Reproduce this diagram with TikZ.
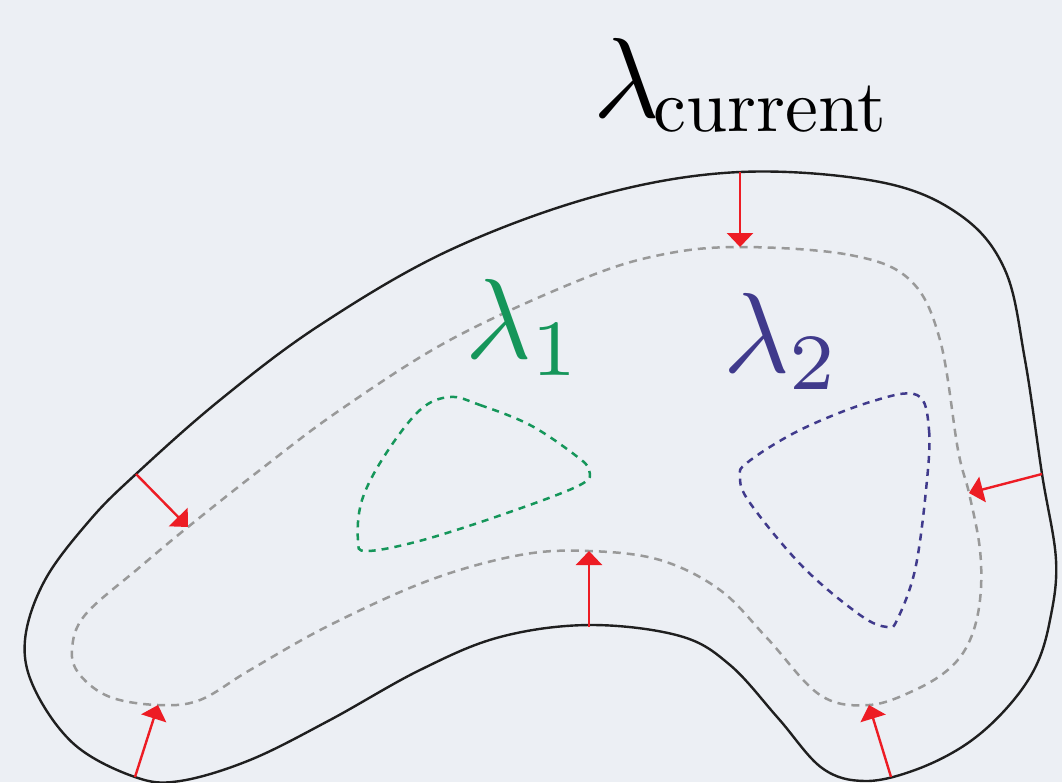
\documentclass[tikz,border=0pt]{standalone}
\usetikzlibrary{arrows.meta}
\definecolor{bgcol}{HTML}{ECEFF4}
\definecolor{pushred}{HTML}{ED1C24}
\definecolor{lamgreen}{HTML}{15965A}
\definecolor{lamblue}{HTML}{403A8C}
\newcommand\biglam[1]{\scalebox{11.4}{#1}}
\begin{document}
\begin{tikzpicture}[x=1pt,y=-1pt,
    outer/.style={line width=2.4pt,draw=black!88},
    level/.style={line width=2.5pt,dash pattern=on 8pt off 6pt},
    push/.style={line width=2.4pt,draw=pushred,-{Triangle[length=14pt,width=26pt]}},
    lab/.style={anchor=base west,inner sep=0pt}]
    \fill[bgcol] (0,0) rectangle (1062,782);
    \useasboundingbox (0,0) rectangle (1062,782);
    % current level set
    \draw[outer] plot[smooth cycle,tension=0.6] coordinates {
        (740,172) (880,182) (960,215) (1005,270) (1025,360) (1042,474)
        (1056,560) (1050,620) (1035,668) (1005,710) (965,745) (915,770)
        (865,781) (822,768) (778,718) (730,665) (680,636) (590,625)
        (500,637) (420,670) (330,720) (250,760) (180,781) (135,777)
        (75,745) (35,690) (25,640) (45,580) (90,520) (136,474) (220,400)
        (320,325) (450,250) (600,195)};
    % next level set
    \draw[level,gray!80] plot[smooth cycle,tension=0.6] coordinates {
        (740,247) (850,255) (910,280) (940,340) (958,450) (969,493)
        (980,550) (980,600) (970,640) (950,668) (915,690) (869,705)
        (820,695) (767,638) (720,590) (660,560) (589,551) (520,555)
        (430,580) (330,625) (250,670) (200,700) (158,705) (110,697)
        (80,675) (72,650) (85,615) (140,567) (188,527) (260,470)
        (340,410) (450,340) (580,280) (660,255)};
    % the two components
    \draw[level,lamgreen,dash pattern=on 7pt off 6pt] plot[smooth cycle,tension=0.6] coordinates {
        (450,397) (480,405) (530,425) (575,455) (589,470) (580,485)
        (507,513) (423,540) (367,551) (358,540) (362,500) (385,455)
        (420,410)};
    \draw[level,lamblue,dash pattern=on 7pt off 6pt] plot[smooth cycle,tension=0.6] coordinates {
        (917,395) (929,430) (926,490) (915,570) (897,620) (887,627)
        (860,615) (803,567) (750,503) (740,477) (748,462) (800,430)
        (870,402)};
    % arrows from the current set inwards
    \coordinate (t0) at (740,172);   \coordinate (t1) at (740,247);
    \coordinate (r0) at (1042,474);  \coordinate (r1) at (969,493);
    \coordinate (br0) at (891,777);  \coordinate (br1) at (869,705);
    \coordinate (m0) at (589,627);   \coordinate (m1) at (589,551);
    \coordinate (bl0) at (135,777);  \coordinate (bl1) at (158,705);
    \coordinate (l0) at (136,474);   \coordinate (l1) at (188,527);
    \foreach \a in {t,r,br,m,bl,l}
        \draw[push] (\a0) -- (\a1);
    % labels
    \node[lab] (lcur) at (593,117) {\biglam{$\lambda$}\hspace{-6pt}\raisebox{-14pt}{\scalebox{7.4}{current}}};
    \node[lab,text=lamgreen] (lone) at (465,358) {\biglam{$\lambda_1$}};
    \node[lab,text=lamblue] (ltwo) at (723,372) {\biglam{$\lambda_2$}};
\end{tikzpicture}
\end{document}
